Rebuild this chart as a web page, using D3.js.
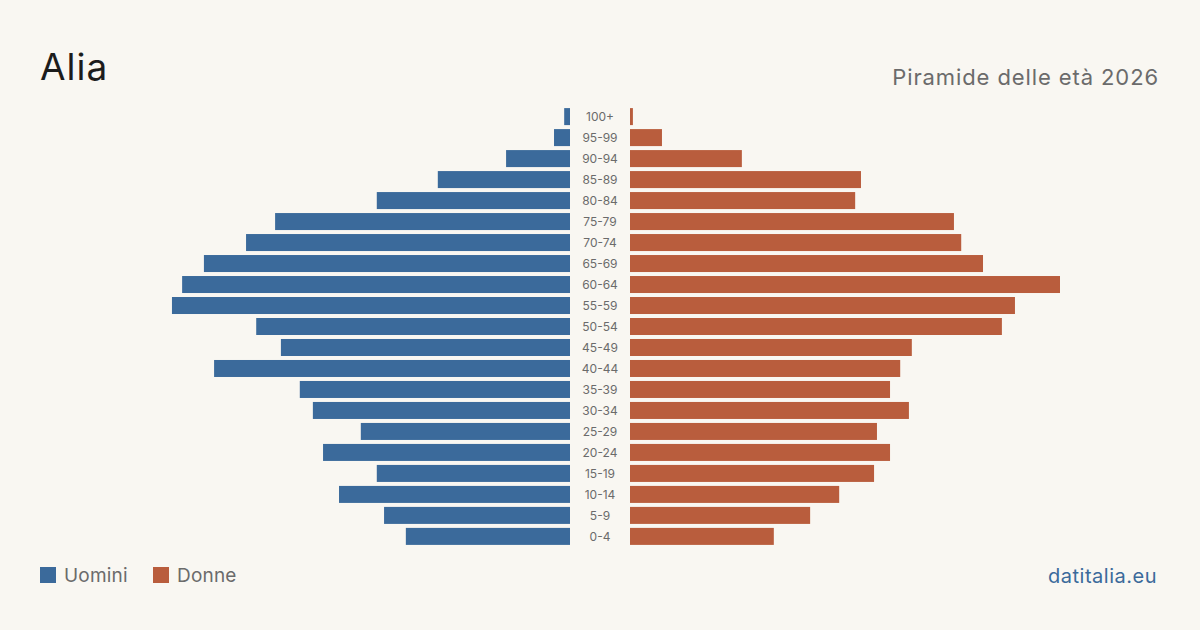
<!DOCTYPE html>
<html>
<head>
<meta charset="utf-8">
<script src="https://cdn.jsdelivr.net/npm/d3@7"></script>
<style>
  html, body { margin: 0; padding: 0; background: #f9f7f2; }
  svg { display: block; font-family: Inter, "Noto Sans", sans-serif; }
</style>
</head>
<body>
<svg id="chart" width="1200" height="630"></svg>
<script>
var ageGroups = ["100+", "95-99", "90-94", "85-89", "80-84", "75-79", "70-74",
                 "65-69", "60-64", "55-59", "50-54", "45-49", "40-44", "35-39",
                 "30-34", "25-29", "20-24", "15-19", "10-14", "5-9", "0-4"];
var men   = [2, 5.5, 22, 45.5, 66.5, 101.5, 111.5, 126, 133.5, 137, 108, 99.5, 122.5, 93, 88.5, 72, 85, 66.5, 79.5, 64, 56.5];
var women = [1, 11, 38.5, 79.5, 77.5, 111.5, 114, 121.5, 148, 132.5, 128, 97, 93, 89.5, 96, 85, 89.5, 84, 72, 62, 49.5];
var legendLabels = ["Uomini", "Donne"];

var colors = { men: "#3b6a9b", women: "#b95d3d" };

var svg = d3.select("#chart");

svg.append("rect").attr("width", 1200).attr("height", 630).attr("fill", "#f9f7f2");

// titles
svg.append("text")
    .attr("x", 40).attr("y", 80)
    .attr("font-size", 37)
    .attr("letter-spacing", 1)
    .attr("fill", "#1c1c1c")
    .text("Alia");

svg.append("text")
    .attr("x", 1159).attr("y", 85)
    .attr("text-anchor", "end")
    .attr("font-size", 22)
    .attr("letter-spacing", 0.9)
    .attr("fill", "#6b6b6b")
    .text("Piramide delle età 2026");

// scales
var y = d3.scaleBand()
    .domain(ageGroups)
    .range([106, 547])
    .paddingInner(0.19)
    .paddingOuter(0.1);

var x = d3.scaleLinear()
    .domain([0, 148])
    .range([0, 430]);

var leftEdge = 570, rightEdge = 630, mid = 600;

var rows = svg.append("g").selectAll(".row")
    .data(ageGroups.map(function(a, i) { return { age: a, m: men[i], f: women[i] }; }))
    .enter().append("g")
    .attr("class", "row");

rows.append("rect")
    .attr("x", function(d) { return leftEdge - x(d.m); })
    .attr("y", function(d) { return y(d.age); })
    .attr("width", function(d) { return x(d.m); })
    .attr("height", y.bandwidth())
    .attr("fill", colors.men);

rows.append("rect")
    .attr("x", rightEdge)
    .attr("y", function(d) { return y(d.age); })
    .attr("width", function(d) { return x(d.f); })
    .attr("height", y.bandwidth())
    .attr("fill", colors.women);

rows.append("text")
    .attr("x", mid)
    .attr("y", function(d) { return y(d.age) + y.bandwidth() / 2; })
    .attr("dy", "0.35em")
    .attr("text-anchor", "middle")
    .attr("font-size", 12)
    .attr("fill", "#6b6b6b")
    .text(function(d) { return d.age; });

// legend
var legend = svg.append("g").selectAll(".legend")
    .data(legendLabels)
    .enter().append("g")
    .attr("class", "legend")
    .attr("transform", function(d, i) { return "translate(" + (40 + i * 113) + ",567)"; });

legend.append("rect")
    .attr("width", 16).attr("height", 16)
    .attr("fill", function(d, i) { return i === 0 ? colors.men : colors.women; });

legend.append("text")
    .attr("x", 24).attr("y", 15)
    .attr("font-size", 19)
    .attr("letter-spacing", 0.2)
    .attr("fill", "#6b6b6b")
    .text(function(d) { return d; });

svg.append("text")
    .attr("x", 1157).attr("y", 583)
    .attr("text-anchor", "end")
    .attr("font-size", 20)
    .attr("letter-spacing", 0.5)
    .attr("fill", "#3b6a9b")
    .text("datitalia.eu");
</script>
</body>
</html>
